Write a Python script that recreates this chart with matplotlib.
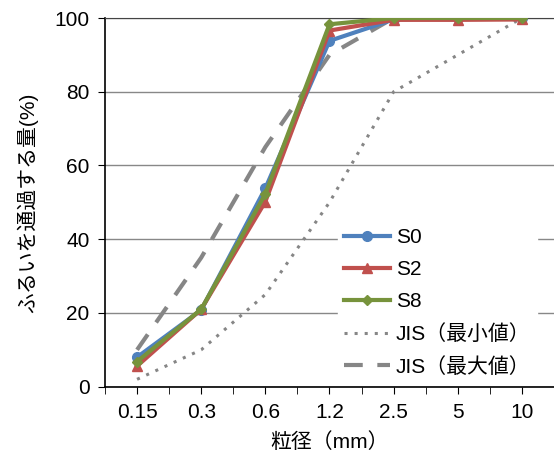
import numpy as np
import matplotlib.pyplot as plt

plt.rcParams['font.family'] = ['Liberation Sans', 'Noto Sans CJK JP']

# sieve sizes (mm) and passing percentages
sizes = ["0.15", "0.3", "0.6", "1.2", "2.5", "5", "10"]
s0 = [8.0, 20.8, 53.8, 93.8, 99.6, 100, 100]
s2 = [5.6, 21.0, 50.2, 96.6, 99.5, 99.5, 99.6]
s8 = [6.8, 21.0, 52.3, 98.3, 100, 100, 100]
jis_min = [2, 10, 25, 50, 80, 90, 100]
jis_max = [10, 35, 65, 90, 100, 100, 100]

x = np.arange(len(sizes))

fig = plt.figure(figsize=(5.54, 4.69), dpi=100)
ax = fig.add_axes([0.1895, 0.1755, 0.8105, 0.7861])

ax.plot(x, s0, color="#4F81BD", lw=3, marker="o", ms=7, label="S0", zorder=5)
ax.plot(x, s2, color="#C0504D", lw=3, marker="^", ms=7, label="S2", zorder=5)
ax.plot(x, s8, color="#77933C", lw=3, marker="D", ms=5, label="S8", zorder=6)
ax.plot(x, jis_min, color="#868686", lw=2.2, ls=(0, (1, 2.3)), label="JIS（最小値）", zorder=4)
ax.plot(x, jis_max, color="#868686", lw=3, ls=(0, (4.5, 3.5)), label="JIS（最大値）", zorder=4)

ax.set_xlim(-0.5, 6.5)
ax.set_ylim(0, 100)
ax.set_yticks(range(0, 101, 20))
ax.set_xticks(x)
ax.set_xticklabels(sizes)
ax.set_xticks(np.arange(-0.5, 6.6, 0.5), minor=True)
ax.tick_params(axis="x", which="both", length=5, direction="out", labelsize=15, pad=7)
ax.tick_params(axis="y", length=5, direction="out", labelsize=15, pad=6)

ax.grid(axis="y", color="#888888", lw=1)
ax.set_axisbelow(True)
ax.spines["right"].set_visible(False)
ax.spines["top"].set_color("#444444")
ax.spines["left"].set_linewidth(1.2)
ax.spines["bottom"].set_linewidth(1.2)

ax.set_xlabel("粒径（mm）", fontsize=15, labelpad=7)
ax.set_ylabel("ふるいを通過する量(%)", fontsize=15, labelpad=12)

leg = ax.legend(loc="lower right", bbox_to_anchor=(0.985, -0.018), frameon=True,
                fontsize=15, handlelength=2.2, labelspacing=0.62,
                borderpad=0.3, handletextpad=0.3)
leg.get_frame().set_edgecolor("white")
leg.get_frame().set_facecolor("white")
leg.get_frame().set_alpha(1)
leg.get_frame().set_boxstyle("square", pad=0)

fig.savefig("out.png", dpi=100)
